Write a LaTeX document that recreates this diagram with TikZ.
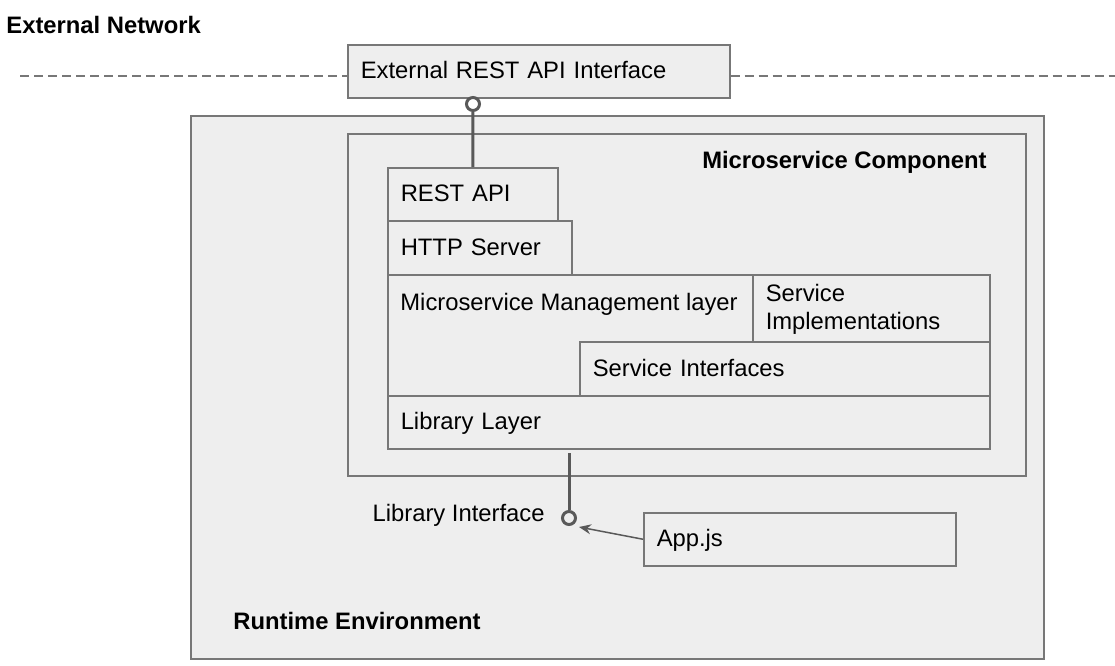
\documentclass[tikz,border=0pt]{standalone}
\usepackage{fontspec}
\setmainfont{Liberation Sans}
\usetikzlibrary{arrows.meta,positioning}
\definecolor{boxfill}{HTML}{EEEEEE}
\definecolor{edge}{HTML}{777777}
\definecolor{wire}{HTML}{595959}
\tikzset{
  blk/.style 2 args={draw=edge, fill=boxfill, line width=0.75pt, anchor=north west, inner xsep=6.5pt, inner ysep=0pt, align=left, text width=#1, minimum height=#2},
  ln/.style={text height=0.95em, text depth=0.2em},
  txt/.style={inner sep=0pt},
  hd/.style={inner sep=0pt, font=\fontsize{11.9}{14}\selectfont\bfseries},
  sock/.style={circle, draw=wire, line width=1.5pt, minimum size=6.5pt, inner sep=0pt},
  wire/.style={draw=wire, line width=1.5pt},
  netline/.style={draw=edge, line width=0.75pt, dash pattern=on 4.5pt off 2.5pt}
}
\begin{document}
\begin{tikzpicture}[x=0.5pt,y=-0.5pt,font=\fontsize{11.9}{14}\selectfont]
  \useasboundingbox (0,0) rectangle (1115,665);
  \node[hd, anchor=west] (n) at (6,25) {External Network};
  \node[blk={178pt}{26.5pt}, ln] (a) at (347,44) {External REST API Interface};
  \coordinate (dl) at (20,76);
  \coordinate (dr) at (1115,76);
  \draw[netline] (dl) -- (dl -| a.west);
  \draw[netline] (a.east |- dr) -- (dr);
  \node[blk={413.5pt}{271.5pt}] (r) at (190,115) {};
  \node[blk={326pt}{171pt}] (c) at (347,133) {};
  \node[hd, anchor=east] (cl) at (987,162) {Microservice Component};
  \node[blk={72pt}{26.5pt}, ln] (b) at (387,167) {REST API};
  \node[blk={79pt}{27pt}, ln] (h) at (387,220) {HTTP Server};
  \node[blk={288pt}{60.5pt}] (m) at (387,274) {};
  \node[txt, anchor=west] (ml) at (400,304) {Microservice Management layer};
  \node[blk={105.5pt}{33.5pt}] (s) at (752,274) {\strut Service\\Implementations};
  \node[blk={192pt}{27pt}, ln] (i) at (579,341) {Service Interfaces};
  \node[blk={288pt}{26.5pt}, ln] (l) at (387,395) {Library Layer};
  \node[sock, fill=white] (p) at (473,104) {};
  \draw[wire] (b.north) -- (p);
  \coordinate (le) at (569,453);
  \node[sock, fill=boxfill] (q) at (569,518) {};
  \draw[wire] (le) -- (q);
  \node[txt, anchor=east] (li) at (545,515) {Library Interface};
  \node[blk={143pt}{26.5pt}, ln] (j) at (643,512) {App.js};
  \coordinate (t) at (579,527);
  \draw[draw=wire, line width=0.75pt, -{Stealth[length=6pt,width=5pt]}] (j.west) -- (t);
  \node[hd, anchor=west] (rl) at (233,621) {Runtime Environment};
\end{tikzpicture}
\end{document}
